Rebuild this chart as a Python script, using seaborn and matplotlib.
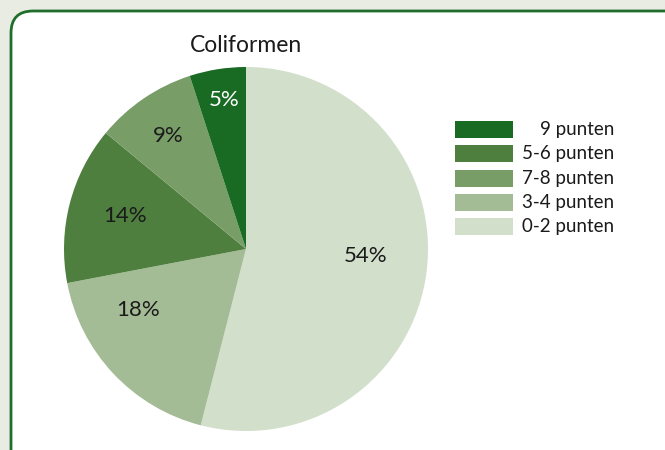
import matplotlib
matplotlib.use("Agg")
import matplotlib.pyplot as plt
from matplotlib.patches import FancyBboxPatch, Rectangle
import seaborn as sns

sns.set_theme(style="white")
plt.rcParams['font.family'] = ['Lato', 'DejaVu Sans']

title = "Coliformen"
categories = ["0-2 punten", "3-4 punten", "5-6 punten", "7-8 punten", "9 punten"]
values = [54, 18, 14, 9, 5]
colors = ["#d2dfcb", "#a4bc96", "#4f7f3f", "#789d66", "#196b24"]
legend_order = ["9 punten", "5-6 punten", "7-8 punten", "3-4 punten", "0-2 punten"]

# layout: label anchor points (unit-radius pie coordinates), one per slice
label_pos = [(0.659, -0.038), (-0.593, -0.335), (-0.665, 0.181),
             (-0.429, 0.621), (-0.121, 0.819)]

W, H = 665, 450
fig = plt.figure(figsize=(W / 100, H / 100), dpi=100)
fig.patch.set_facecolor("#e8ece3")

# background / frame axes in pixel coordinates
bg = fig.add_axes([0, 0, 1, 1], zorder=0)
bg.set_xlim(0, W)
bg.set_ylim(H, 0)
bg.axis("off")
frame = FancyBboxPatch((11, 11), W + 40, H + 40,
                       boxstyle="round,pad=0,rounding_size=22",
                       facecolor="white", edgecolor="#1f6e2b", linewidth=2.0)
bg.add_patch(frame)

# pie axes: center (246,249), radius 182 px
cx, cy, r = 246, 249, 182
ax = fig.add_axes([(cx - r) / W, (H - cy - r) / H, 2 * r / W, 2 * r / H], zorder=1)
wedges, texts, autotexts = ax.pie(
    values, colors=colors, startangle=90, counterclock=False,
    autopct=lambda p: f"{p:.0f}%", pctdistance=0.7,
    wedgeprops=dict(linewidth=0), textprops=dict(fontsize=16, color="#1a1a1a"))
ax.set_xlim(-1, 1)
ax.set_ylim(-1, 1)
ax.set_aspect("equal")
ax.axis("off")
for t, pos in zip(autotexts, label_pos):
    t.set_position(pos)
autotexts[-1].set_color("white")

bg.text(246, 46, title, fontsize=16.5, ha="center", va="center", color="#1a1a1a")

# legend
color_of = dict(zip(categories, colors))
for i, lab in enumerate(legend_order):
    ytop = 121 + i * 24.3
    bg.add_patch(Rectangle((455, ytop), 58, 17, facecolor=color_of[lab], edgecolor="none"))
    bg.text(614, ytop + 8.5, lab, fontsize=13.5, ha="right", va="center", color="#1a1a1a")

fig.savefig("out.png", dpi=100, facecolor=fig.get_facecolor())
